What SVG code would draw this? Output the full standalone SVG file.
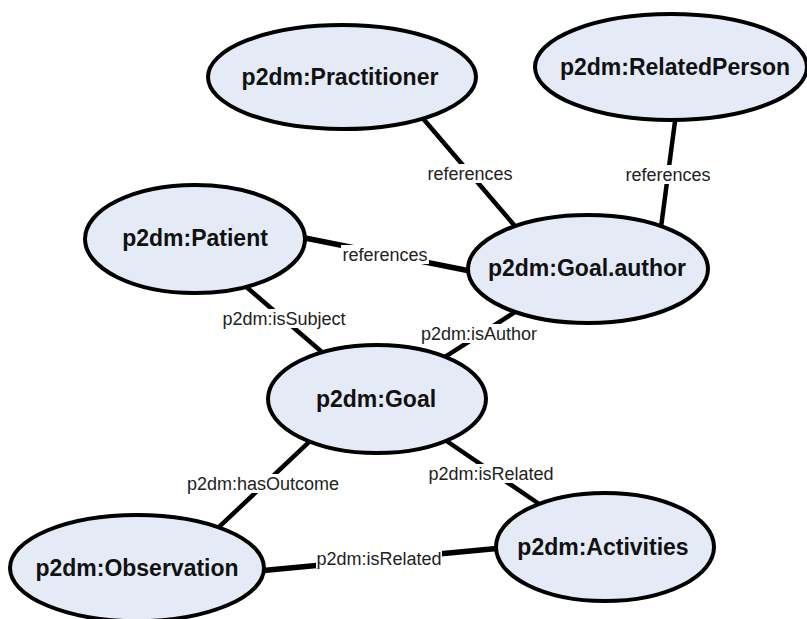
<svg xmlns="http://www.w3.org/2000/svg" width="807" height="619" viewBox="0 0 807 619">
  <style>
    .edge { stroke: #000; stroke-width: 4.5; stroke-linecap: butt; fill: none; }
    .edge.wide { stroke-width: 5.5; }
    .node ellipse { fill: #e5ebf6; stroke: #000; stroke-width: 4; }
    .node text { font-family: "Liberation Sans", Arial, sans-serif; font-weight: bold; font-size: 23px; fill: #111; text-anchor: middle; }
    .lbl rect { fill: #fff; }
    .lbl text { font-family: "Liberation Sans", Arial, sans-serif; font-size: 18px; fill: #222; text-anchor: middle; }
  </style>
  <rect width="807" height="619" fill="#fff"/>

  <!-- connectors -->
  <g id="connectors">
    <line class="edge" x1="420" y1="115" x2="520" y2="232"/>
    <line class="edge" x1="676.5" y1="110" x2="660" y2="235"/>
    <line class="edge wide" x1="300" y1="237" x2="475" y2="272"/>
    <line class="edge" x1="245" y1="285.7" x2="330" y2="359"/>
    <line class="edge" x1="440" y1="360.2" x2="525" y2="305.6"/>
    <line class="edge" x1="315" y1="436.3" x2="213" y2="532.7"/>
    <line class="edge" x1="440" y1="436.5" x2="545" y2="508"/>
    <line class="edge wide" x1="258" y1="571" x2="502" y2="548"/>

    <g class="lbl"><rect x="426" y="164" width="88" height="19"/><text x="470" y="179.5">references</text></g>
    <g class="lbl"><rect x="624" y="165" width="88" height="19"/><text x="668" y="180.5">references</text></g>
    <g class="lbl"><rect x="341" y="245" width="88" height="19"/><text x="385" y="260.5">references</text></g>
    <g class="lbl"><rect x="220" y="309" width="128" height="19"/><text x="284" y="324.5">p2dm:isSubject</text></g>
    <g class="lbl"><rect x="420" y="324" width="118" height="19"/><text x="479" y="339.5">p2dm:isAuthor</text></g>
    <g class="lbl"><rect x="185" y="474" width="156" height="19"/><text x="263" y="489.5">p2dm:hasOutcome</text></g>
    <g class="lbl"><rect x="428" y="464" width="126" height="19"/><text x="491" y="479.5">p2dm:isRelated</text></g>
    <g class="lbl"><rect x="316" y="549" width="126" height="19"/><text x="379" y="564.5">p2dm:isRelated</text></g>
  </g>

  <!-- nodes -->
  <g id="practitioner" class="node">
    <ellipse cx="342" cy="77" rx="134" ry="52"/>
    <text x="340" y="85">p2dm:Practitioner</text>
  </g>
  <g id="related-person" class="node">
    <ellipse cx="671" cy="67" rx="136" ry="53"/>
    <text x="675" y="75">p2dm:RelatedPerson</text>
  </g>
  <g id="patient" class="node">
    <ellipse cx="195" cy="239" rx="110" ry="54"/>
    <text x="195" y="246">p2dm:Patient</text>
  </g>
  <g id="goal-author" class="node">
    <ellipse cx="588" cy="269" rx="120" ry="54"/>
    <text x="587" y="276">p2dm:Goal.author</text>
  </g>
  <g id="goal" class="node">
    <ellipse cx="377" cy="399" rx="109" ry="54"/>
    <text x="376" y="407">p2dm:Goal</text>
  </g>
  <g id="observation" class="node">
    <ellipse cx="137" cy="568" rx="127" ry="53"/>
    <text x="137" y="576">p2dm:Observation</text>
  </g>
  <g id="activities" class="node">
    <ellipse cx="605" cy="547" rx="109" ry="54"/>
    <text x="603" y="555">p2dm:Activities</text>
  </g>
</svg>
